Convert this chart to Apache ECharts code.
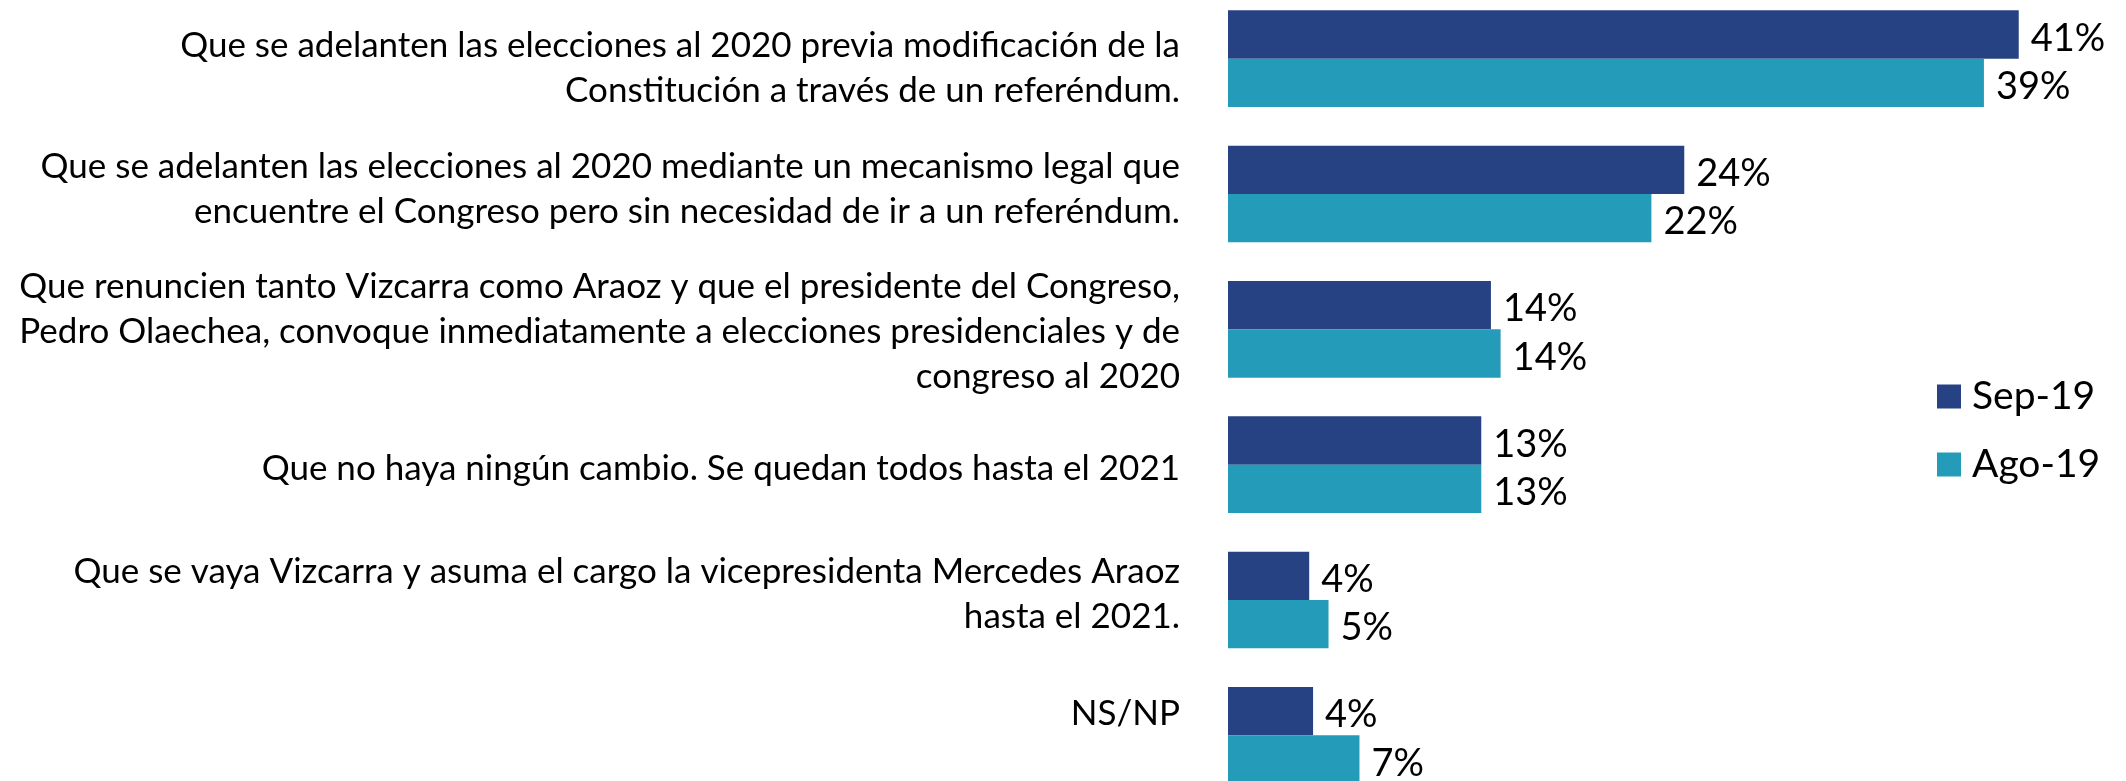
<!DOCTYPE html>
<html>
<head>
<meta charset="utf-8">
<script src="https://cdn.jsdelivr.net/npm/echarts@6/dist/echarts.min.js"></script>
<style>
html,body{margin:0;padding:0;background:#fff;overflow:hidden;width:2126px;height:781px;}
#wrap{position:relative;width:2126px;height:781px;overflow:hidden;}
#c{position:absolute;left:0;top:-9px;width:2126px;height:812px;}
</style>
</head>
<body>
<div id="wrap"><div id="c"></div></div>
<script>
// ---- data ----
var categories = [
  'Que se adelanten las elecciones al 2020 previa modificación de la\nConstitución a través de un referéndum.',
  'Que se adelanten las elecciones al 2020 mediante un mecanismo legal que\nencuentre el Congreso pero sin necesidad de ir a un referéndum.',
  'Que renuncien tanto Vizcarra como Araoz y que el presidente del Congreso,\nPedro Olaechea, convoque inmediatamente a elecciones presidenciales y de\ncongreso al 2020',
  'Que no haya ningún cambio. Se quedan todos hasta el 2021',
  'Que se vaya Vizcarra y asuma el cargo la vicepresidenta Mercedes Araoz\nhasta el 2021.',
  'NS/NP'
];
var seriesNames = ['Sep-19', 'Ago-19'];
var sep19 = [40.9, 23.6, 13.6, 13.1, 4.2, 4.4];
var ago19 = [39.1, 21.9, 14.1, 13.1, 5.2, 6.8];

// ---- layout / style ----
var labelShift = [10, -5, 2, 4, -6, -22]; // vertical nudge of category labels (px)
var FONT = 'Lato';

function catFormatter(value, index) {
  var lines = value.split('\n').map(function (l) { return '{t|' + l + '}'; });
  var d = labelShift[index] || 0;
  if (d > 0) {
    lines.unshift('{g' + index + '| }');
  } else if (d < 0) {
    lines.push('{g' + index + '| }');
  }
  return lines.join('\n');
}
var rich = { t: { fontFamily: FONT, fontSize: 35, lineHeight: 45, color: '#000', align: 'right' } };
labelShift.forEach(function (d, i) {
  rich['g' + i] = { fontSize: 1, lineHeight: Math.max(1, Math.abs(d) * 2) };
});

var chart = echarts.init(document.getElementById('c'), null, { renderer: 'canvas' });
var valueLabel = {
  show: true,
  position: 'right',
  distance: 12,
  offset: [0, 4],
  fontFamily: FONT,
  fontSize: 38,
  color: '#000',
  formatter: function (p) { return Math.round(p.value) + '%'; }
};
chart.setOption({
  animation: false,
  backgroundColor: '#ffffff',
  grid: { left: 1228, right: 28, top: 0, bottom: 0, containLabel: false },
  xAxis: {
    type: 'value', min: 0, max: 45,
    show: false
  },
  yAxis: {
    type: 'category',
    inverse: true,
    data: categories,
    axisLine: { show: false },
    axisTick: { show: false },
    axisLabel: {
      margin: 48,
      fontFamily: FONT,
      fontSize: 35,
      lineHeight: 45,
      color: '#000',
      align: 'right',
      formatter: catFormatter,
      rich: rich
    }
  },
  legend: {
    orient: 'vertical',
    left: 1932,
    top: 381,
    itemWidth: 24,
    itemHeight: 24,
    itemGap: 29,
    icon: 'rect',
    data: seriesNames,
    textStyle: { fontFamily: FONT, fontSize: 39, lineHeight: 38, color: '#000', padding: [0, 0, 0, 6] }
  },
  series: [
    {
      name: seriesNames[0], type: 'bar', data: sep19,
      barWidth: 48.3, barGap: '0%',
      itemStyle: { color: '#264282' },
      label: valueLabel
    },
    {
      name: seriesNames[1], type: 'bar', data: ago19,
      barWidth: 48.3, barGap: '0%',
      itemStyle: { color: '#249bb8' },
      label: valueLabel
    }
  ]
});
</script>
</body>
</html>
